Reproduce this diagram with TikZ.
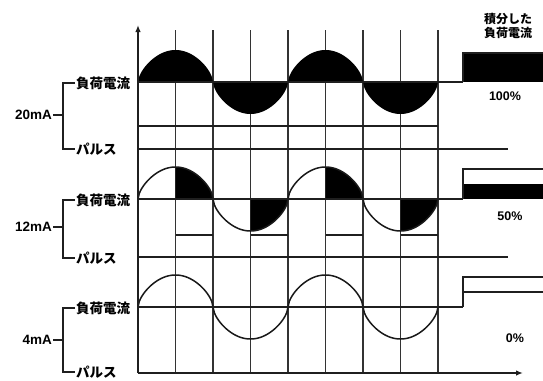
\documentclass[tikz,border=0pt]{standalone}
\usepackage{fontspec}
\setmainfont{Liberation Sans}
\newfontfamily\jp{Noto Sans CJK JP}
\usetikzlibrary{arrows.meta}
\begin{document}
\begin{tikzpicture}[x=1pt,y=-1pt,
  declare function={sw(\t)=(sin(\t)>=0?1:-1)*pow(abs(sin(\t))+0.0001,0.6);},
  ln/.style={line width=1.5pt, draw=black!88},
  gridln/.style={line width=1.4pt, draw=black!80},
  wave/.style={line width=1.5pt, draw=black!90},
  jplabel/.style={font=\jp\bfseries\fontsize{13.5}{15}\selectfont, inner sep=1pt, anchor=west},
  malabel/.style={font=\bfseries\fontsize{13.5}{16}\selectfont, inner sep=1pt, anchor=east},
  pct/.style={font=\bfseries\fontsize{12.5}{15}\selectfont, inner sep=1pt},
  tip/.style={-{Latex[length=7pt,width=5.5pt]}}]
\useasboundingbox (0,0) rectangle (543,380);
\clip (0,0) rectangle (543,380);

% vertical grid
\foreach \x in {175.5,213,250.5,288,325.5,363,400.5,438}
  \draw[gridln] (\x,30) -- (\x,373);

% ---------- top panel (20mA, 100%) ----------
\fill[black] (138,82) -- plot[domain=138:438,samples=241] (\x,{82-32*sw((\x-138)*2.4)}) -- cycle;
\draw[ln] (138,82) -- (463,82);
\fill[black] (463,53) rectangle (546,82);
\draw[ln] (463,82) -- (463,53) -- (546,53);
\draw[ln] (138,126) -- (438,126);
\draw[ln] (138,149) -- (508,149);

% ---------- middle panel (12mA, 50%) ----------
\foreach \k in {175.5,250.5,325.5,400.5}{
  \fill[black] (\k,199) -- plot[domain=\k:\k+37.5,samples=41] (\x,{199-32*sw((\x-138)*2.4)}) -- cycle;
  \draw[ln] (\k,235) -- (\k+37.5,235);
}
\draw[wave] plot[domain=138:438,samples=241] (\x,{199-32*sw((\x-138)*2.4)});
\draw[ln] (138,199) -- (463,199);
\fill[black] (463,184) rectangle (546,199);
\draw[ln] (463,199) -- (463,169) -- (546,169);
\draw[ln] (138,257) -- (508,257);

% ---------- bottom panel (4mA, 0%) ----------
\draw[wave] plot[domain=138:438,samples=241] (\x,{307-32*sw((\x-138)*2.4)});
\draw[ln] (138,307) -- (463,307);
\draw[ln] (463,307) -- (463,277) -- (546,277);
\draw[ln] (463,292) -- (546,292);

% axes
\draw[ln,tip] (138,373) -- (523,373);
\draw[ln,tip] (138,373) -- (138,25);

% left labels
\node[jplabel] (l1) at (75,83) {負荷電流};
\node[jplabel] (p1) at (75,149) {パルス};
\node[malabel] (m1) at (53,115) {20mA};
\draw[ln] (l1.west) -- (63,83) -- (63,149) -- (p1.west);
\draw[ln] (m1.east) -- (63,115);

\node[jplabel] (l2) at (75,200) {負荷電流};
\node[jplabel] (p2) at (75,258) {パルス};
\node[malabel] (m2) at (53,227) {12mA};
\draw[ln] (l2.west) -- (63,200) -- (63,258) -- (p2.west);
\draw[ln] (m2.east) -- (63,227);

\node[jplabel] (l3) at (75,308) {負荷電流};
\node[jplabel] (p3) at (75,372) {パルス};
\node[malabel] (m3) at (53,340) {4mA};
\draw[ln] (l3.west) -- (63,308) -- (63,372) -- (p3.west);
\draw[ln] (m3.east) -- (63,340);

% right labels
\node[font=\jp\bfseries\fontsize{12}{14}\selectfont, align=center, inner sep=0pt] (title) at (508,26) {積分した\\負荷電流};
\node[pct] (c100) at (505,96) {100\%};
\node[pct] (c50) at (510,216) {50\%};
\node[pct] (c0) at (515,338) {0\%};
\end{tikzpicture}
\end{document}
